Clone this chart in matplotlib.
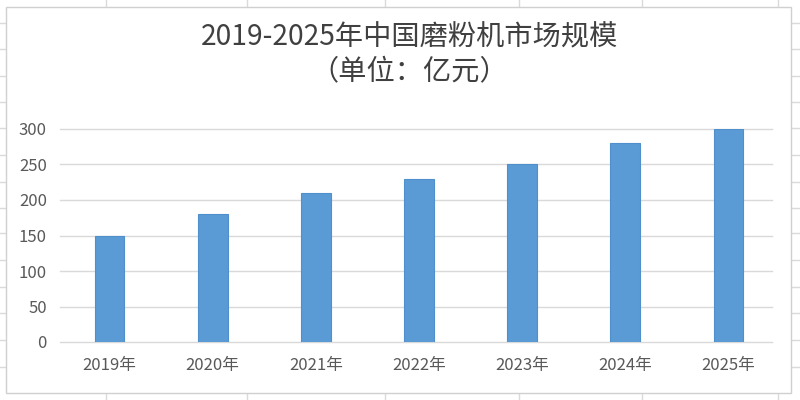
import matplotlib
matplotlib.use("Agg")
import matplotlib.pyplot as plt
from matplotlib.patches import Rectangle
from matplotlib.lines import Line2D

plt.rcParams['font.family'] = ['Noto Sans CJK SC', 'DejaVu Sans']

years = ["2019年", "2020年", "2021年", "2022年", "2023年", "2024年", "2025年"]
values = [150, 180, 210, 230, 250, 280, 300]
yticks = [0, 50, 100, 150, 200, 250, 300]
title_line1 = "2019-2025年中国磨粉机市场规模"
title_line2 = "（单位：亿元）"

W, H = 800, 400
fig = plt.figure(figsize=(8, 4), dpi=100)
fig.patch.set_facecolor("white")

# spreadsheet background grid (decoration)
grid_c = "#DADADA"
for x in [106, 247, 385, 519, 642, 778]:
    fig.add_artist(Line2D([x / W, x / W], [0, 1], transform=fig.transFigure,
                          color=grid_c, lw=1, zorder=0))
for y in [23, 49, 76, 102, 128, 155, 182, 208, 233, 260, 287, 313, 340, 367]:
    fig.add_artist(Line2D([0, 1], [1 - y / H, 1 - y / H], transform=fig.transFigure,
                          color=grid_c, lw=1, zorder=0))

# chart area
fig.add_artist(Rectangle((6 / W, 1 - 393 / H), (791 - 6) / W, (393 - 7) / H,
                         transform=fig.transFigure, facecolor="white",
                         edgecolor="#D0D0D0", lw=1, zorder=1))

ax_l, ax_r = 58, 780
ax = fig.add_axes([ax_l / W, 1 - 342 / H, (ax_r - ax_l) / W, (342 - 129) / H])
ax.set_zorder(2)
ax.patch.set_alpha(0)

x = range(len(years))
ax.bar(x, values, width=0.287, color="#5B9BD5", edgecolor="#4F8FCC", lw=0.8, zorder=3)
ax.set_xlim(-0.5, len(years) - 0.5)
ax.set_ylim(0, 300)
ax.set_yticks(yticks)
ax.set_xticks(list(x))
ax.set_xticklabels(years)
gx0 = (60 - ax_l) / (ax_r - ax_l)
gx1 = (772 - ax_l) / (ax_r - ax_l)
for t in yticks:
    ax.axhline(t, xmin=gx0, xmax=gx1, color="#D9D9D9", lw=1, zorder=1, clip_on=False)
for s in ["top", "right", "left", "bottom"]:
    ax.spines[s].set_visible(False)
ax.tick_params(axis="both", length=0, labelsize=12, labelcolor="#595959")
ax.tick_params(axis="x", pad=11)
ax.tick_params(axis="y", pad=8)

fig.text(410 / W, 1 - 37.5 / H, title_line1, ha="center", va="center",
         fontsize=20.3, color="#404040")
fig.text(409 / W, 1 - 72 / H, title_line2, ha="center", va="center",
         fontsize=20.3, color="#404040")

fig.savefig("out.png", dpi=100)
